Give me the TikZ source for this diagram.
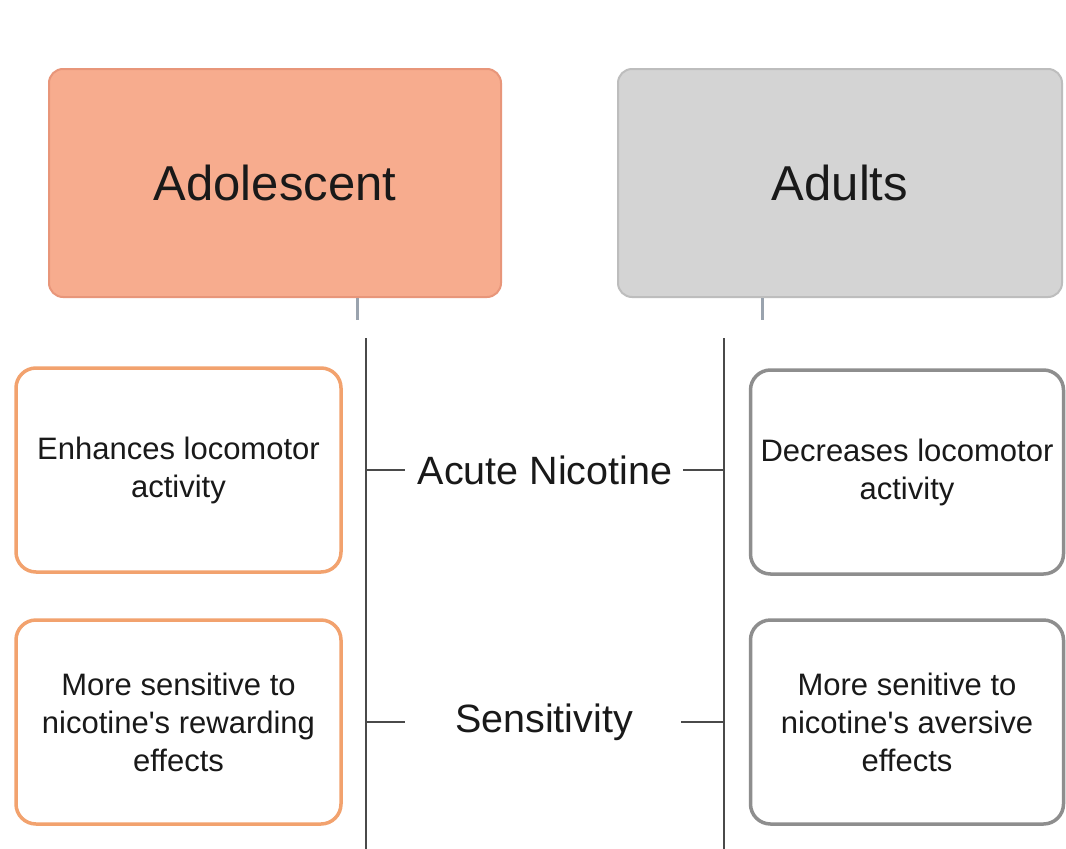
\documentclass[tikz,border=0pt]{standalone}
\usepackage{fontspec}
\setmainfont{Liberation Sans}[Ligatures=TeXOff]
\begin{document}
\begin{tikzpicture}[x=1pt,y=-1pt,
  head/.style={draw, line width=2pt, rounded corners=14pt, inner sep=0pt, text=black!90},
  adolbox/.style={head, fill=adolfill, draw=adoldraw},
  adultbox/.style={head, fill=adultfill, draw=adultdraw},
  item/.style={draw, line width=3.5pt, rounded corners=20pt, fill=white, align=center, inner sep=0pt,
     font=\fontsize{31}{38}\selectfont, text=black!90},
  orangeitem/.style={item, draw=itemorange},
  grayitem/.style={item, draw=itemgray},
  conn/.style={draw=linegray, line width=2pt},
  stub/.style={draw=stubgray, line width=3pt},
  mid/.style={font=\fontsize{39.5}{44}\selectfont, text=black!90, inner sep=0pt}
]
\definecolor{adolfill}{HTML}{F7AC8E}
\definecolor{adoldraw}{HTML}{E8967A}
\definecolor{adultfill}{HTML}{D4D4D4}
\definecolor{adultdraw}{HTML}{BDBDBD}
\definecolor{itemorange}{HTML}{F2A26E}
\definecolor{itemgray}{HTML}{8E8E8E}
\definecolor{linegray}{HTML}{4A4A4A}
\definecolor{stubgray}{HTML}{9AA3AE}

\useasboundingbox[fill=white] (0,0) rectangle (1066,849);

% header boxes
\node[adolbox, minimum width=452pt, minimum height=228pt] (adol) at (275,183)
  {\fontsize{49}{56}\selectfont Adolescent};
\node[adultbox, minimum width=444pt, minimum height=228pt] (adult) at (840,183)
  {\fontsize{49}{56}\selectfont Adults};

% stubs below headers
\coordinate (s1) at (357,320);
\coordinate (s2) at (762,320);
\draw[stub] (adol.south -| s1) -- (s1);
\draw[stub] (adult.south -| s2) -- (s2);

% long vertical lines
\coordinate (L0) at (366,338);
\coordinate (L1) at (366,849);
\coordinate (R0) at (724,338);
\coordinate (R1) at (724,849);
\draw[conn] (L0) -- (L1);
\draw[conn] (R0) -- (R1);

% item boxes
\node[orangeitem, minimum width=325pt, minimum height=204pt] (enh) at (178.5,470)
  {Enhances locomotor\\activity};
\node[orangeitem, minimum width=325pt, minimum height=204pt] (rew) at (178.5,722)
  {More sensitive to\\nicotine's rewarding\\effects};
\node[grayitem, minimum width=313pt, minimum height=204pt] (dec) at (907,472)
  {Decreases locomotor\\activity};
\node[grayitem, minimum width=313pt, minimum height=204pt] (ave) at (907,722)
  {More senitive to\\nicotine's aversive\\effects};

% middle labels
\node[mid] (acute) at (545,470) {Acute Nicotine};
\node[mid] (sens) at (544,722) {Sensitivity};

% ticks
\coordinate (a1) at (366,470);
\coordinate (a2) at (405,470);
\coordinate (a3) at (683,470);
\coordinate (a4) at (724,470);
\coordinate (b1) at (366,722);
\coordinate (b2) at (405,722);
\coordinate (b3) at (681,722);
\coordinate (b4) at (724,722);
\draw[conn] (a1) -- (a2);
\draw[conn] (a3) -- (a4);
\draw[conn] (b1) -- (b2);
\draw[conn] (b3) -- (b4);
\end{tikzpicture}
\end{document}
